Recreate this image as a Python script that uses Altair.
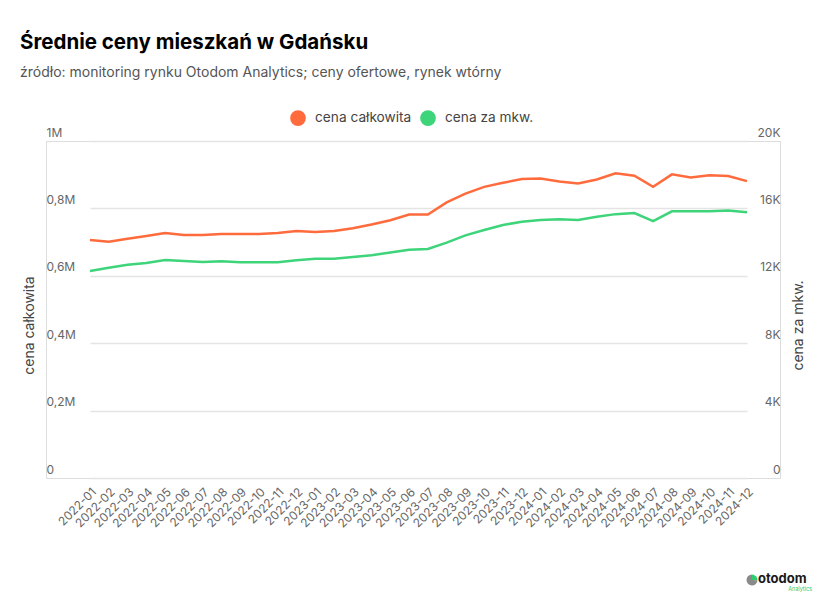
import altair as alt
import pandas as pd

months = [f"{y}-{m:02d}" for y in (2022, 2023, 2024) for m in range(1, 13)]

total_price = [0.706, 0.701, 0.710, 0.718, 0.727, 0.721, 0.721, 0.724, 0.724, 0.724,
               0.727, 0.733, 0.730, 0.733, 0.741, 0.752, 0.765, 0.782, 0.782, 0.818,
               0.844, 0.864, 0.876, 0.887, 0.889, 0.880, 0.874, 0.886, 0.904, 0.897,
               0.864, 0.901, 0.892, 0.898, 0.896, 0.881]
total_price = [v * 1_000_000 for v in total_price]

sqm_price = [12285, 12481, 12660, 12760, 12938, 12878, 12819, 12860, 12800, 12800,
             12800, 12918, 13017, 13010, 13115, 13225, 13383, 13551, 13591, 13966,
             14400, 14717, 15015, 15211, 15312, 15353, 15312, 15500, 15660, 15720,
             15240, 15827, 15827, 15827, 15876, 15767]

series_names = ["cena całkowita", "cena za mkw."]
series_colors = ["#FF6B3D", "#3DD47A"]

left_ticks = [0, 200000, 400000, 600000, 800000, 1000000]
right_ticks = [0, 4000, 8000, 12000, 16000, 20000]

df = pd.DataFrame({"month": months, "total": total_price, "sqm": sqm_price})

FONT = "Inter"
LABEL_COLOR = "#666666"

x_enc = alt.X(
    "month:O",
    sort=months,
    scale=alt.Scale(type="point", padding=0, range=[44, 701]),
    axis=alt.Axis(
        title=None, labelAngle=-45, labelAlign="right", labelBaseline="top",
        domain=False, ticks=False, grid=False,
        labelFontSize=12, labelColor=LABEL_COLOR, labelPadding=8, labelFont=FONT,
    ),
)

color_scale = alt.Scale(domain=series_names, range=series_colors)
legend = alt.Legend(
    title=None, orient="none", legendX=244, legendY=-31, direction="horizontal",
    symbolType="circle", symbolSize=60, symbolStrokeWidth=8, labelFontSize=13.7,
    labelColor="#444444", labelFont=FONT, columnPadding=-4, labelOffset=9,
)

left_line = alt.Chart(df).mark_line(strokeWidth=2.5).encode(
    x=x_enc,
    y=alt.Y(
        "total:Q",
        scale=alt.Scale(domain=[0, 1000000], nice=False),
        axis=alt.Axis(
            orient="left", values=left_ticks, title="cena całkowita",
            grid=True, gridColor="#e4e4e4", gridWidth=1.3, domain=False, ticks=False,
            labelAlign="left", labelBaseline="alphabetic", labelPadding=0, labelOffset=-5,
            labelFontSize=12, labelColor=LABEL_COLOR, labelFont=FONT,
            labelExpr="datum.value == 0 ? '0' : datum.value >= 1000000 ? '1M' : replace(format(datum.value / 1000000, '.1f'), '.', ',') + 'M'",
            titleX=-10, titleY=184, titleAngle=-90, titleFontSize=14,
            titleFontWeight="normal", titleColor="#444444", titleFont=FONT,
        ),
    ),
    color=alt.Color("series:N", scale=color_scale, legend=legend),
).transform_calculate(series="'cena całkowita'")

right_line = alt.Chart(df).mark_line(strokeWidth=2.5).encode(
    x=x_enc,
    y=alt.Y(
        "sqm:Q",
        scale=alt.Scale(domain=[0, 20000], nice=False),
        axis=alt.Axis(
            orient="right", values=right_ticks, title="cena za mkw.",
            grid=False, domain=False, ticks=False,
            labelAlign="right", labelBaseline="alphabetic", labelPadding=0, labelOffset=-5,
            labelFontSize=12, labelColor=LABEL_COLOR, labelFont=FONT,
            labelExpr="datum.value == 0 ? '0' : format(datum.value / 1000, 'd') + 'K'",
            titleX=25, titleY=184, titleAngle=-90, titleFontSize=14,
            titleFontWeight="normal", titleColor="#444444", titleFont=FONT,
        ),
    ),
    color=alt.Color("series:N", scale=color_scale, legend=legend),
).transform_calculate(series="'cena za mkw.'")

one = pd.DataFrame({"a": [0]})
logo_grey = alt.Chart(one).mark_arc(radius=5.5, color="#8a8a8a").encode(
    x=alt.value(706), y=alt.value(439), theta=alt.value(1.6), theta2=alt.value(6.283)
)
logo_green = alt.Chart(one).mark_arc(radius=5.5, color="#2ecc71").encode(
    x=alt.value(706), y=alt.value(439), theta=alt.value(0), theta2=alt.value(1.6)
)
logo_text = alt.Chart(one).mark_text(
    text="otodom", font=FONT, fontSize=13, fontWeight="bold", color="#1a1a1a",
    align="left", baseline="middle",
).encode(x=alt.value(712), y=alt.value(437.5))
logo_sub = alt.Chart(one).mark_text(
    text="Analytics", font=FONT, fontSize=5.5, color="#2ecc71",
    align="right", baseline="middle",
).encode(x=alt.value(766), y=alt.value(447.5))

chart = alt.layer(
    left_line, right_line, logo_grey, logo_green, logo_text, logo_sub
).resolve_scale(y="independent").properties(
    width=734,
    height=337,
    autosize=alt.AutoSizeParams(type="none"),
    padding={"left": 38, "top": 133, "right": 39, "bottom": 114},
    title=alt.TitleParams(
        text="Średnie ceny mieszkań w Gdańsku",
        subtitle="źródło: monitoring rynku Otodom Analytics; ceny ofertowe, rynek wtórny",
        anchor="start", frame="group", dx=-26, offset=30,
        font=FONT, fontSize=20.5, fontWeight="bold", color="#000000",
        subtitleFont=FONT, subtitleFontSize=14, subtitleColor="#555555",
        subtitlePadding=13,
    ),
).configure_view(stroke=None).configure(background="white")

chart.save("out.html", embed_options={"renderer": "svg", "actions": False})
